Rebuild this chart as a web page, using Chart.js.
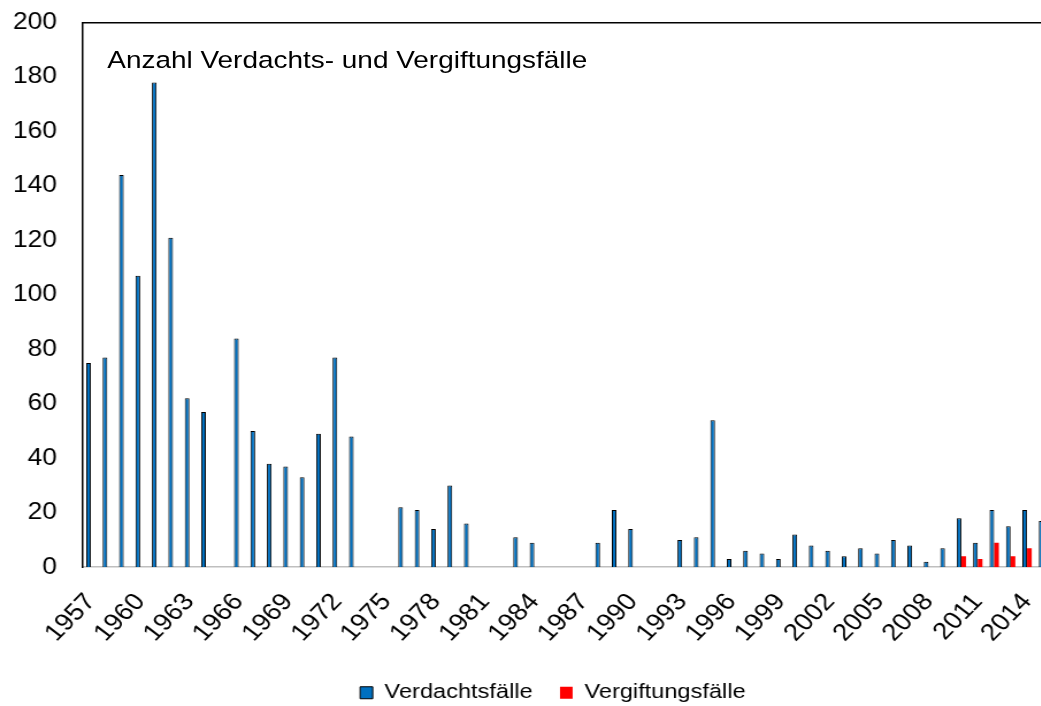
<!DOCTYPE html>
<html lang="de">
<head>
<meta charset="utf-8">
<title>Anzahl Verdachts- und Vergiftungsfälle</title>
<script src="https://cdn.jsdelivr.net/npm/chart.js@4"></script>
<style>
  body { margin: 0; overflow: hidden; background: #fff; }
  #wrap {
    position: absolute; left: 0; top: 0;
    width: 960px; height: 706px;
    transform: scaleX(1.15); transform-origin: 0 0;
  }
  #titel {
    position: absolute; left: 93.3px; top: 48px;
    font: 24.3px/24px "Liberation Sans", Arial, sans-serif;
    color: #000; white-space: nowrap;
  }
</style>
</head>
<body>
<div id="wrap">
  <canvas id="chart" width="960" height="706" style="width:960px;height:706px"></canvas>
  <div id="titel">Anzahl Verdachts- und Vergiftungsfälle</div>
</div>
<script>
// Jahre (Kategorien)
const jahre = [
  "1957", "1958", "1959", "1960", "1961", "1962", "1963", "1964", "1965", "1966",
  "1967", "1968", "1969", "1970", "1971", "1972", "1973", "1974", "1975", "1976",
  "1977", "1978", "1979", "1980", "1981", "1982", "1983", "1984", "1985", "1986",
  "1987", "1988", "1989", "1990", "1991", "1992", "1993", "1994", "1995", "1996",
  "1997", "1998", "1999", "2000", "2001", "2002", "2003", "2004", "2005", "2006",
  "2007", "2008", "2009", "2010", "2011", "2012", "2013", "2014", "2015"
];

// Verdachtsfälle pro Jahr (null = kein Wert)
const verdachtsfaelle = [
  75, 77, 144, 107, 178, 121, 62, 57, null, 84,
  50, 38, 37, 33, 49, 77, 48, null, null, 22,
  21, 14, 30, 16, null, null, 11, 9, null, null,
  null, 9, 21, 14, null, null, 10, 11, 54, 3,
  6, 5, 3, 12, 8, 6, 4, 7, 5, 10,
  8, 2, 7, 18, 9, 21, 15, 21, 17
];

// Vergiftungsfälle pro Jahr
const vergiftungsfaelle = [
  null, null, null, null, null, null, null, null, null, null,
  null, null, null, null, null, null, null, null, null, null,
  null, null, null, null, null, null, null, null, null, null,
  null, null, null, null, null, null, null, null, null, null,
  null, null, null, null, null, null, null, null, null, null,
  null, null, null, 4, 3, 9, 4, 7, null
];

// Achsenwerte
const yMin = 0;
const yMax = 200;
const yStep = 20;
const labelJedes = 3; // nur jedes dritte Jahr beschriften

const schrift = '"Liberation Sans", Arial, sans-serif';

const ctx = document.getElementById("chart");
new Chart(ctx, {
  type: "bar",
  data: {
    labels: jahre,
    datasets: [
      {
        label: "Verdachtsfälle",
        data: verdachtsfaelle,
        backgroundColor: "#0070C0",
        borderColor: "#000000",
        borderWidth: 1
      },
      {
        label: "Vergiftungsfälle",
        data: vergiftungsfaelle,
        backgroundColor: "#FF0000",
        borderWidth: 0
      }
    ]
  },
  options: {
    responsive: false,
    animation: false,
    devicePixelRatio: 1,
    categoryPercentage: 0.57,
    barPercentage: 1,
    layout: {
      padding: { left: 1.5, right: 0, top: 0, bottom: -7 }
    },
    plugins: {
      tooltip: { enabled: false },
      legend: {
        position: "bottom",
        labels: {
          color: "#000",
          font: { family: schrift, size: 20.5 },
          boxWidth: 11,
          boxHeight: 12,
          padding: 23.8
        }
      }
    },
    scales: {
      x: {
        offset: true,
        grid: { display: false, drawTicks: false },
        border: { color: "#BFBFBF", width: 1.5 },
        ticks: {
          autoSkip: false,
          minRotation: 49,
          maxRotation: 49,
          padding: 21,
          color: "#000",
          font: { family: schrift, size: 24 },
          callback: (value, index) => (index % labelJedes === 0 ? jahre[index] : "")
        },
        afterFit: (scale) => {
          scale.height = 91.5;
        }
      },
      // obere Rahmenlinie der Zeichenfläche
      x2: {
        type: "category",
        position: "top",
        grid: { display: false, drawTicks: false },
        border: { color: "#000", width: 1.5 },
        ticks: { display: false },
        afterFit: (scale) => {
          scale.height = 22.5;
        }
      },
      // Beschriftung der Werteachse (außen)
      y: {
        min: yMin,
        max: yMax,
        weight: 1,
        grid: { display: false, drawTicks: false },
        border: { display: false },
        ticks: {
          stepSize: yStep,
          padding: 0,
          color: "#000",
          font: { family: schrift, size: 23 }
        },
        afterFit: (scale) => {
          scale.width = 48.1;
        }
      },
      // Abstand + schwarze Achsenlinie links
      yLinie: {
        type: "linear",
        position: "left",
        weight: 0,
        grid: { display: false, drawTicks: false },
        border: { color: "#000", width: 1.5 },
        ticks: { display: false },
        afterFit: (scale) => {
          scale.width = 22.3;
        }
      },
      // Platz rechts (Diagramm läuft über den Rand hinaus)
      y2: {
        type: "linear",
        position: "right",
        grid: { display: false, drawTicks: false },
        border: { display: false },
        ticks: { display: false },
        afterFit: (scale) => {
          scale.width = 45.5;
        }
      }
    }
  }
});
</script>
</body>
</html>
